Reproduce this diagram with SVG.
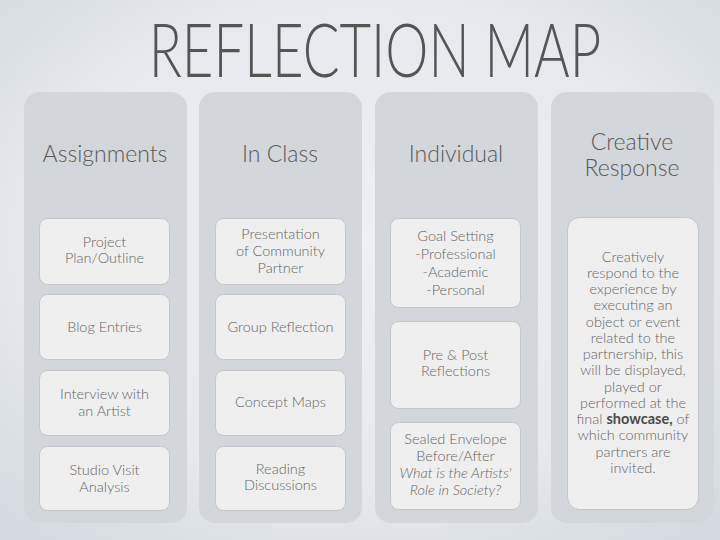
<svg xmlns="http://www.w3.org/2000/svg" width="720" height="540" viewBox="0 0 720 540">
<defs>
<radialGradient id="bg" cx="50%" cy="45%" r="75%">
<stop offset="0" stop-color="#eef0f3"/>
<stop offset="0.6" stop-color="#e6e9ed"/>
<stop offset="1" stop-color="#d2d8de"/>
</radialGradient>
<style>
.col{fill:#d3d6da;}
.box{fill:#efefef;stroke:#c3c5c9;stroke-width:1;}
.t{font-family:"Lato","Liberation Sans",sans-serif;fill:#666;text-anchor:middle;font-size:14.5px;font-weight:300;}
.h{font-family:"Lato","Liberation Sans",sans-serif;fill:#5a5a5a;text-anchor:middle;font-size:23px;font-weight:300;}
.title{font-family:"Lato","Liberation Sans",sans-serif;fill:#555;text-anchor:middle;font-size:74px;font-weight:300;}
</style>
</defs>
<rect width="720" height="540" fill="url(#bg)"/>
<text class="title" transform="translate(375,77) scale(0.737,1)" x="0" y="0">REFLECTION MAP</text>

<g id="col-assignments">
<rect class="col" x="24" y="92" width="163" height="431" rx="16"/>
<text class="h" x="105" y="162">Assignments</text>
</g>
<g id="col-inclass">
<rect class="col" x="199" y="92" width="163" height="431" rx="16"/>
<text class="h" x="280" y="162">In Class</text>
</g>
<g id="col-individual">
<rect class="col" x="375" y="92" width="163" height="431" rx="16"/>
<text class="h" x="456" y="162">Individual</text>
</g>
<g id="col-creative">
<rect class="col" x="551" y="92" width="163" height="431" rx="16"/>
<text class="h" x="632" y="150">Creative</text>
<text class="h" x="632" y="176">Response</text>
</g>

<g id="project-plan">
<rect class="box" x="39.5" y="218.5" width="130" height="66" rx="8"/>
<text class="t" x="104.5" y="247">Project</text>
<text class="t" x="104.5" y="263">Plan/Outline</text>
</g>
<g id="blog-entries">
<rect class="box" x="39.5" y="294.5" width="130" height="65" rx="8"/>
<text class="t" x="104.5" y="332">Blog Entries</text>
</g>
<g id="interview">
<rect class="box" x="39.5" y="370.5" width="130" height="65" rx="8"/>
<text class="t" x="104.5" y="399">Interview with</text>
<text class="t" x="104.5" y="416">an Artist</text>
</g>
<g id="studio-visit">
<rect class="box" x="39.5" y="446.5" width="130" height="64" rx="8"/>
<text class="t" x="104.5" y="475">Studio Visit</text>
<text class="t" x="104.5" y="492">Analysis</text>
</g>

<g id="presentation">
<rect class="box" x="215.5" y="218.5" width="130" height="66" rx="8"/>
<text class="t" x="280.5" y="239">Presentation</text>
<text class="t" x="280.5" y="256">of Community</text>
<text class="t" x="280.5" y="273">Partner</text>
</g>
<g id="group-reflection">
<rect class="box" x="215.5" y="294.5" width="130" height="65" rx="8"/>
<text class="t" x="280.5" y="332">Group Reflection</text>
</g>
<g id="concept-maps">
<rect class="box" x="215.5" y="370.5" width="130" height="65" rx="8"/>
<text class="t" x="280.5" y="407">Concept Maps</text>
</g>
<g id="reading">
<rect class="box" x="215.5" y="446.5" width="130" height="64" rx="8"/>
<text class="t" x="280.5" y="474">Reading</text>
<text class="t" x="280.5" y="490">Discussions</text>
</g>

<g id="goal-setting">
<rect class="box" x="390.5" y="218.5" width="130" height="89" rx="8"/>
<text class="t" x="455.5" y="241">Goal Setting</text>
<text class="t" x="455.5" y="259">-Professional</text>
<text class="t" x="455.5" y="277">-Academic</text>
<text class="t" x="455.5" y="295">-Personal</text>
</g>
<g id="pre-post">
<rect class="box" x="390.5" y="321.5" width="130" height="87" rx="8"/>
<text class="t" x="455.5" y="360">Pre &amp; Post</text>
<text class="t" x="455.5" y="376">Reflections</text>
</g>
<g id="sealed-envelope">
<rect class="box" x="390.5" y="422.5" width="130" height="87" rx="8"/>
<text class="t" x="455.5" y="444">Sealed Envelope</text>
<text class="t" x="455.5" y="461">Before/After</text>
<text class="t" x="455.5" y="478" font-style="italic">What is the Artists'</text>
<text class="t" x="455.5" y="495" font-style="italic">Role in Society?</text>
</g>

<g id="creative-box">
<rect class="box" x="567.5" y="217.5" width="131" height="292" rx="12"/>
<text class="t" x="633" y="262">Creatively</text>
<text class="t" x="633" y="278">respond to the</text>
<text class="t" x="633" y="294">experience by</text>
<text class="t" x="633" y="310">executing an</text>
<text class="t" x="633" y="327">object or event</text>
<text class="t" x="633" y="343">related to the</text>
<text class="t" x="633" y="359">partnership, this</text>
<text class="t" x="633" y="375">will be displayed,</text>
<text class="t" x="633" y="392">played or</text>
<text class="t" x="633" y="408">performed at the</text>
<text class="t" x="633" y="424">final <tspan font-weight="bold" fill="#4a4a4a">showcase,</tspan> of</text>
<text class="t" x="633" y="440">which community</text>
<text class="t" x="633" y="457">partners are</text>
<text class="t" x="633" y="473">invited.</text>
</g>
<g id="connectors"></g>
</svg>
